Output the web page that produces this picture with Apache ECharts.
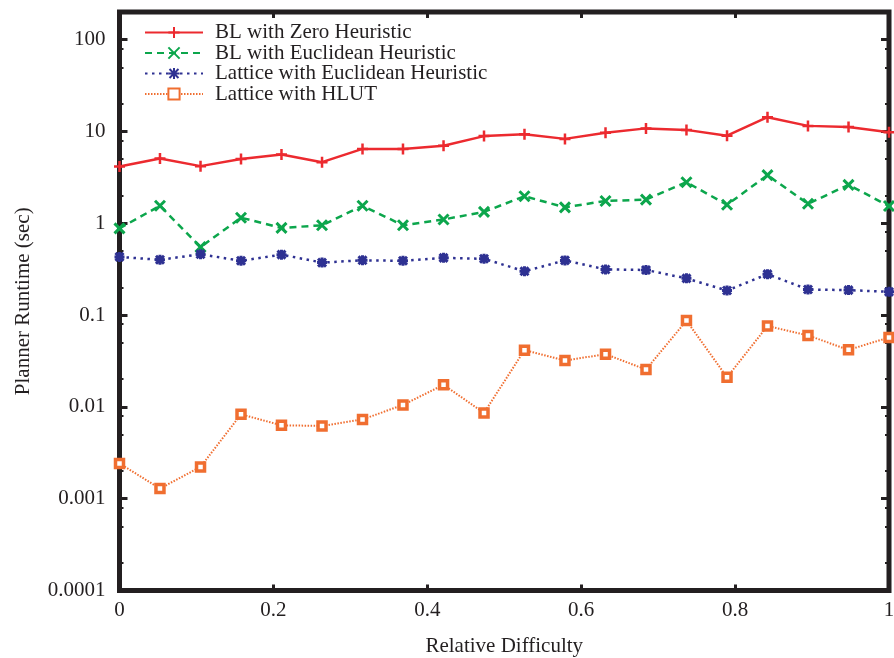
<!DOCTYPE html>
<html><head><meta charset="utf-8">
<script src="https://cdn.jsdelivr.net/npm/echarts@6/dist/echarts.min.js"></script>
<style>html,body{margin:0;padding:0;background:#fff}#c{width:894px;height:658px}</style>
</head><body><div id="c"></div>
<script>
const xValues = [0, 0.0526, 0.1053, 0.1579, 0.2105, 0.2632, 0.3158, 0.3684, 0.4211, 0.4737,
  0.5263, 0.5789, 0.6316, 0.6842, 0.7368, 0.7895, 0.8421, 0.8947, 0.9474, 1];
const blZero = [4.15, 5.08, 4.19, 5.0, 5.6, 4.63, 6.45, 6.45, 7.0, 8.9,
  9.3, 8.3, 9.7, 10.8, 10.4, 9.0, 14.3, 11.5, 11.2, 9.8];
const blEuclid = [0.88, 1.55, 0.55, 1.15, 0.89, 0.95, 1.55, 0.95, 1.10, 1.33,
  1.97, 1.49, 1.75, 1.81, 2.80, 1.59, 3.34, 1.63, 2.62, 1.54];
const latEuclid = [0.43, 0.40, 0.46, 0.39, 0.455, 0.373, 0.395, 0.39, 0.42, 0.41,
  0.30, 0.394, 0.314, 0.31, 0.251, 0.185, 0.279, 0.19, 0.187, 0.179];
const latHlut = [0.00242, 0.00129, 0.00222, 0.0083, 0.0063, 0.0062, 0.0073, 0.0105, 0.0174, 0.0086,
  0.0415, 0.032, 0.0375, 0.0255, 0.087, 0.021, 0.076, 0.060, 0.0418, 0.057];
const seriesNames = ['BL with Zero Heuristic', 'BL with Euclidean Heuristic',
  'Lattice with Euclidean Heuristic', 'Lattice with HLUT'];
const xTicks = [0, 0.2, 0.4, 0.6, 0.8, 1];
const yTicks = [0.0001, 0.001, 0.01, 0.1, 1, 10, 100];
const yTickLabels = ['0.0001', '0.001', '0.01', '0.1', '1', '10', '100'];
const yMinorMult = [2, 5, 8];

const ink = '#231f20';
const font = 'Liberation Serif';
const fs = 21;
const minorLogs = [];
for (let e = -4; e <= 1; e++) for (const m of yMinorMult) minorLogs.push(Math.log10(m) + e);

function pairs(ys) { return ys.map((y, i) => [xValues[i], y]); }

const chart = echarts.init(document.getElementById('c'), null, {renderer: 'canvas'});
const majorTick = {show: true, inside: true, length: 8, lineStyle: {color: ink, width: 3}};
const minorTickStyle = {show: true, inside: true, length: 4, lineStyle: {color: ink, width: 2}};
const yLabelFmt = v => {
  for (let i = 0; i < yTicks.length; i++) {
    if (Math.abs(Math.log10(v) - Math.log10(yTicks[i])) < 0.01) return yTickLabels[i];
  }
  return '';
};
const xLabelFmt = v => {
  for (const t of xTicks) if (Math.abs(v - t) < 1e-6) return String(t);
  return '';
};
const noLine = {show: false, onZero: false};
const symPlus = 'path://M5,0 L5,10 M0,5 L10,5';
const symX = 'path://M0,0 L10,10 M0,10 L10,0';
const symStar = 'path://M5,0 L5,10 M0,5 L10,5 M1,1 L9,9 M1,9 L9,1';

chart.setOption({
  animation: false,
  backgroundColor: '#fff',
  textStyle: {fontFamily: font},
  grid: {left: 119.5, right: 5, top: 12, bottom: 67.5, show: true,
    outerBoundsMode: 'none', containLabel: false,
    borderColor: ink, borderWidth: 5, backgroundColor: 'transparent'},
  legend: {
    left: 139, top: 17, orient: 'vertical', itemWidth: 58, itemHeight: 14, itemGap: -0.5,
    textStyle: {fontFamily: font, fontSize: fs, color: ink, lineHeight: 20, padding: [0, 0, 0, 7]},
    data: seriesNames
  },
  xAxis: [
    {type: 'value', min: 0, max: 1, interval: 0.2, position: 'bottom',
      axisLine: noLine, splitLine: {show: false},
      axisTick: {show: true, inside: true, length: 6, lineStyle: {color: ink, width: 3}},
      axisLabel: {margin: 9, fontFamily: font, fontSize: fs, color: ink, formatter: xLabelFmt},
      name: 'Relative Difficulty', nameLocation: 'middle', nameGap: 45,
      nameTextStyle: {fontFamily: font, fontSize: fs, color: ink}},
    {type: 'value', min: 0, max: 1, interval: 0.2, position: 'top',
      axisLine: noLine, splitLine: {show: false},
      axisTick: {show: true, inside: true, length: 6, lineStyle: {color: ink, width: 3}},
      axisLabel: {show: false}}
  ],
  yAxis: [
    {type: 'log', logBase: 10, min: 0.0001, max: 200, position: 'left',
      axisLine: noLine, splitLine: {show: false}, axisTick: majorTick,
      axisLabel: {margin: 14, fontFamily: font, fontSize: fs, color: ink, formatter: yLabelFmt},
      name: 'Planner Runtime (sec)', nameLocation: 'middle', nameGap: 86, nameRotate: 90,
      nameTextStyle: {fontFamily: font, fontSize: fs, color: ink}},
    {type: 'log', logBase: 10, min: 0.0001, max: 200, position: 'right',
      axisLine: noLine, splitLine: {show: false}, axisTick: majorTick,
      axisLabel: {show: false}},
    {type: 'value', min: -4, max: 2.30103, position: 'left',
      axisLine: noLine, splitLine: {show: false},
      axisTick: Object.assign({customValues: minorLogs}, minorTickStyle),
      axisLabel: {show: false}},
    {type: 'value', min: -4, max: 2.30103, position: 'right',
      axisLine: noLine, splitLine: {show: false},
      axisTick: Object.assign({customValues: minorLogs}, minorTickStyle),
      axisLabel: {show: false}}
  ],
  series: [
    {name: seriesNames[0], type: 'line', data: pairs(blZero),
      symbol: symPlus, symbolSize: 11,
      lineStyle: {color: '#ec2a2f', width: 2.5, type: 'solid'},
      itemStyle: {color: '#ec2a2f', borderColor: '#ec2a2f', borderWidth: 2.5}},
    {name: seriesNames[1], type: 'line', data: pairs(blEuclid),
      symbol: symX, symbolSize: 10,
      lineStyle: {color: '#0ca64c', width: 2.5, type: [7, 5]},
      itemStyle: {color: '#0ca64c', borderColor: '#0ca64c', borderWidth: 3}},
    {name: seriesNames[2], type: 'line', data: pairs(latEuclid),
      symbol: symStar, symbolSize: 10,
      lineStyle: {color: '#2e3192', width: 2.5, type: [2.5, 4.5]},
      itemStyle: {color: '#2e3192', borderColor: '#2e3192', borderWidth: 3}},
    {name: seriesNames[3], type: 'line', data: pairs(latHlut),
      symbol: 'rect', symbolSize: 8,
      lineStyle: {color: '#f06e30', width: 2, type: [1.5, 1.5]},
      itemStyle: {color: '#ffffff', borderColor: '#f06e30', borderWidth: 3.5}}
  ]
});
</script>
</body></html>
